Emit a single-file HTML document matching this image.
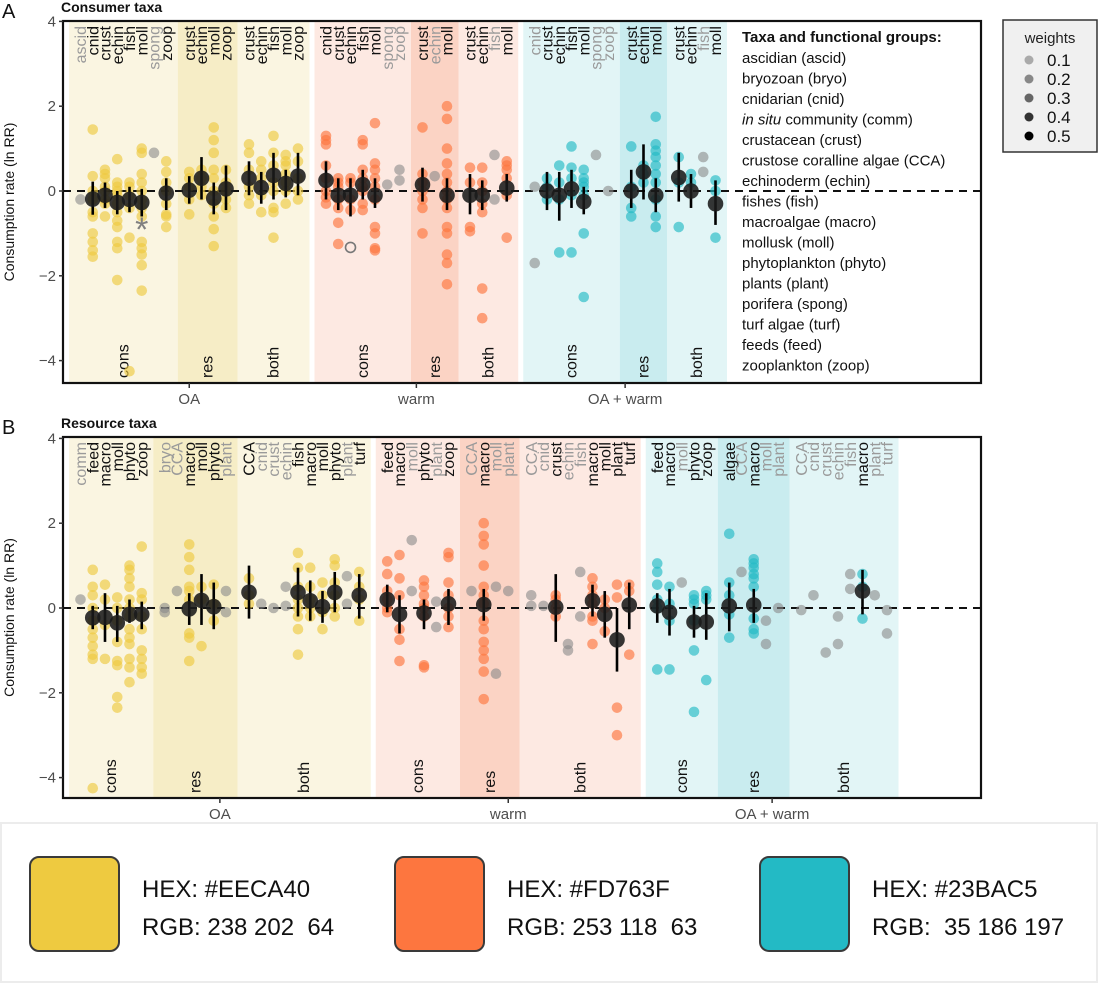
<!DOCTYPE html>
<html><head><meta charset="utf-8"><style>
body{margin:0;background:#fff;}
svg{display:block;font-family:"Liberation Sans",sans-serif;}
.pre{white-space:pre;}
</style></head><body>
<svg id="chart" width="1099" height="984" viewBox="0 0 1099 984" xmlns="http://www.w3.org/2000/svg">
<rect x="0" y="0" width="1099" height="984" fill="#fff"/>
<rect x="1" y="823" width="1096" height="159" fill="#fff" stroke="#ececec" stroke-width="2"/>
<g id="layer"></g>
<!-- colour key -->
<g font-family="'Liberation Sans',sans-serif" font-size="24" fill="#111">
<rect x="30" y="857" width="89" height="94" rx="9" fill="#EECA40" stroke="#3a3a3a" stroke-width="2"/>
<text x="142" y="897">HEX: #EECA40</text>
<text x="142" y="935" class="pre">RGB: 238 202  64</text>
<rect x="395" y="857" width="89" height="94" rx="9" fill="#FD763F" stroke="#3a3a3a" stroke-width="2"/>
<text x="507" y="897">HEX: #FD763F</text>
<text x="507" y="935" class="pre">RGB: 253 118  63</text>
<rect x="760" y="857" width="89" height="94" rx="9" fill="#23BAC5" stroke="#3a3a3a" stroke-width="2"/>
<text x="872" y="897">HEX: #23BAC5</text>
<text x="872" y="935" class="pre">RGB:  35 186 197</text>
</g>
<!-- weights legend -->
<g>
<rect x="1003" y="20" width="94" height="132" fill="#f0f0f0" stroke="#333" stroke-width="1.5"/>
<text x="1050" y="43" font-size="15" text-anchor="middle" fill="#222">weights</text>
<circle cx="1029" cy="60" r="4.5" fill="#aaa"/><text x="1047" y="66" font-size="17" fill="#111">0.1</text>
<circle cx="1029" cy="79" r="4.5" fill="#888"/><text x="1047" y="85" font-size="17" fill="#111">0.2</text>
<circle cx="1029" cy="98" r="4.5" fill="#666"/><text x="1047" y="104" font-size="17" fill="#111">0.3</text>
<circle cx="1029" cy="117" r="4.5" fill="#333"/><text x="1047" y="123" font-size="17" fill="#111">0.4</text>
<circle cx="1029" cy="136" r="4.5" fill="#000"/><text x="1047" y="142" font-size="17" fill="#111">0.5</text>
</g>
<!-- taxa legend -->
<g font-size="15" fill="#111">
<text x="742" y="42" font-weight="bold">Taxa and functional groups:</text>
<text x="742" y="63">ascidian (ascid)</text>
<text x="742" y="83.5">bryozoan (bryo)</text>
<text x="742" y="104">cnidarian (cnid)</text>
<text x="742" y="124.5"><tspan font-style="italic">in situ</tspan> community (comm)</text>
<text x="742" y="145">crustacean (crust)</text>
<text x="742" y="165.5">crustose coralline algae (CCA)</text>
<text x="742" y="186">echinoderm (echin)</text>
<text x="742" y="206.5">fishes (fish)</text>
<text x="742" y="227">macroalgae (macro)</text>
<text x="742" y="247.5">mollusk (moll)</text>
<text x="742" y="268">phytoplankton (phyto)</text>
<text x="742" y="288.5">plants (plant)</text>
<text x="742" y="309">porifera (spong)</text>
<text x="742" y="329.5">turf algae (turf)</text>
<text x="742" y="350">feeds (feed)</text>
<text x="742" y="370.5">zooplankton (zoop)</text>
</g>
</svg>
<script>
// ===== Panel A data (consumer taxa) =====
const bandTreatA = ["OA","OA","OA","warm","warm","warm","OA + warm","OA + warm","OA + warm"];
const bandTypeA = ["cons","res","both","cons","res","both","cons","res","both"];
const taxaA = [
 ["ascid","cnid","crust","echin","fish","moll","spong","zoop"],
 ["crust","echin","moll","zoop"],
 ["crust","echin","fish","moll","zoop"],
 ["cnid","crust","echin","fish","moll","spong","zoop"],
 ["crust","echin","moll"],
 ["crust","echin","fish","moll"],
 ["cnid","crust","echin","fish","moll","spong","zoop"],
 ["crust","echin","moll"],
 ["crust","echin","fish","moll"]];
const meanA = [null,-0.19,-0.1,-0.27,-0.2,-0.27,null,-0.05, 0.02,0.3,-0.17,0.05, 0.3,0.08,0.37,0.18,0.35,
 0.25,-0.1,-0.1,0.15,-0.1,null,null, 0.15,null,-0.1, -0.1,-0.1,null,0.07,
 null,0.0,-0.1,0.05,-0.25,null,null, 0.0,0.45,-0.1, 0.32,0.0,null,-0.3];
const hiA = [null,0.22,0.2,0.0,0.1,0.05,null,0.3, 0.35,0.8,0.2,0.6, 0.7,0.45,0.9,0.5,0.9,
 0.7,0.3,0.3,0.5,0.3,null,null, 0.55,null,0.3, 0.4,0.25,null,0.4,
 null,0.45,0.45,0.5,0.1,null,null, 0.5,1.1,0.3, 0.9,0.4,null,0.25];
const loA = [null,-0.56,-0.4,-0.55,-0.5,-0.6,null,-0.45, -0.3,-0.2,-0.55,-0.45, -0.1,-0.3,-0.2,-0.15,-0.1,
 -0.2,-0.45,-0.6,-0.2,-0.4,null,null, -0.25,null,-0.45, -0.55,-0.45,null,-0.25,
 null,-0.45,-0.7,-0.4,-0.55,null,null, -0.4,-0.2,-0.5, -0.25,-0.4,null,-0.8];
const ptsA = [
 [-0.2],[1.45,0.35,0,-0.2,-0.5,-0.6,-1.0,-1.2,-1.4,-1.55],[0.5,0.4,0.3,0.1,0,-0.2,-0.3,-0.6],
 [0.75,0.2,0.1,0,-0.1,-0.3,-0.5,-0.7,-0.85,-1.2,-1.35,-2.1],[0.2,0.1,-0.1,-0.4,-1.1,-4.25],
 [1.0,0.9,0.4,0.2,0,-0.2,-0.4,-0.6,-1.2,-1.35,-1.5,-1.75,-2.35],[0.9],[0.7,0.45,0.2,0,-0.3,-0.55,-0.6,-0.85],
 [0.45,0.3,0.1,-0.2,-0.55],[0.5,0.3,0.1,-0.1],[1.5,1.2,0.9,0.5,0.3,0,-0.3,-0.6,-0.9,-1.3],[0.5,0.2,0,-0.2,-0.4],
 [1.1,0.9,0.5,0.1,-0.1,-0.3],[0.7,0.5,0.3,-0.1,-0.5],[1.3,0.9,0.6,0.2,0,-0.4,-0.5,-1.1],[0.85,0.7,0.6,0.4,0.2,0,-0.3],[1.0,0.7,0.3,0,-0.2],
 [1.3,1.2,1.1,0.6,0.3,0,-0.15,-0.3],[0.3,0.2,0.1,-0.2,-0.4,-0.75,-1.25],[0.3,0.2,-0.2,-0.45],[1.2,1.1,0.5,0.3,0.1,0,-0.3,-0.45],
 [1.6,0.65,0.5,0.3,0.1,-0.2,-0.85,-1.0,-1.35,-1.4],[0.15],[0.5,0.25],
 [1.5,0.4,0.2,0,-0.2,-0.4,-1.0],[0.35],[2.0,1.7,1.0,0.65,0.4,0.2,0,-0.2,-0.4,-0.85,-1.0,-1.5,-1.7,-2.2],
 [0.55,0.2,-0.85,-0.95],[0.55,0.2,0,-0.3,-0.5,-2.3,-3.0],[0.85,-0.2],[0.7,0.6,0.5,0.3,-0.1,-1.1],
 [0.1,-1.7],[0.3,0.1,-0.2],[0.6,0.2,-0.2,-1.45],[1.05,0.55,0.3,-0.1,-1.45],[0.5,0.3,0.2,0.1,-0.1,-1.0,-2.5],[0.85],[0],
 [1.05,0.1,-0.4,-0.6],[0.6,0.4,0.2],[1.75,1.1,0.95,0.8,0.6,0.4,0.2,-0.2,-0.6,-0.85],
 [0.8,0.2,-0.85],[0.4,0.2],[0.8,0.45],[0.25,0.0,-1.1]];
const asteriskA = [{idx:5, v:-0.85}];
const openCircleA = [{idx:19, v:-1.33}];

// ===== Panel B data (resource taxa) =====
const bandTreatB = ["OA","OA","OA","warm","warm","warm","OA + warm","OA + warm","OA + warm"];
const bandTypeB = ["cons","res","both","cons","res","both","cons","res","both"];
const taxaB = [
 ["comm","feed","macro","moll","phyto","zoop"],
 ["bryo","CCA","macro","moll","phyto","plant"],
 ["CCA","cnid","crust","echin","fish","macro","moll","phyto","plant","turf"],
 ["feed","macro","moll","phyto","plant","zoop"],
 ["CCA","macro","moll","plant"],
 ["CCA","cnid","crust","echin","fish","macro","moll","plant","turf"],
 ["feed","macro","moll","phyto","zoop"],
 ["algae","CCA","macro","moll","plant"],
 ["CCA","cnid","crust","echin","fish","macro","plant","turf"]];
const meanB = [null,-0.23,-0.22,-0.35,-0.15,-0.15, null,null,-0.02,0.18,0.03,null,
 0.37,null,null,null,0.37,0.17,0.03,0.37,null,0.3,
 0.2,-0.15,null,-0.12,null,0.1, null,0.08,null,null,
 null,null,0.02,null,null,0.17,-0.15,-0.75,0.07,
 0.05,-0.1,null,-0.33,-0.33, 0.05,null,0.07,null,null,
 null,null,null,null,null,0.4,null,null];
const hiB = [null,0.05,0.35,0.05,0.2,0.15, null,null,0.35,0.8,0.6,null,
 1.0,null,null,null,0.95,0.65,0.4,0.85,null,0.8,
 0.55,0.3,null,0.2,null,0.45, null,0.45,null,null,
 null,null,0.8,null,null,0.55,0.4,0.0,0.6,
 0.35,0.45,null,0.05,0.35, 0.6,null,0.45,null,null,
 null,null,null,null,null,0.9,null,null];
const loB = [null,-0.5,-0.8,-0.8,-0.35,-0.5, null,null,-0.4,-0.4,-0.5,null,
 -0.25,null,null,null,-0.2,-0.3,-0.35,-0.1,null,-0.25,
 -0.1,-0.6,null,-0.5,null,-0.4, null,-0.3,null,null,
 null,null,-0.8,null,null,-0.2,-0.7,-1.5,-0.5,
 -0.35,-0.65,null,-0.7,-0.75, -0.55,null,-0.35,null,null,
 null,null,null,null,null,-0.15,null,null];
const ptsB = [
 [0.2],[0.9,0.5,0.3,0,-0.3,-0.5,-0.7,-0.9,-1.1,-1.2,-4.25],[0.55,0.2,-0.4,-1.2],[0.25,0,-0.3,-0.8,-1.25,-1.35,-2.1,-2.35],
 [1.0,0.9,0.7,0.5,0.2,0,-0.2,-0.5,-0.7,-0.85,-1.2,-1.4,-1.75],[1.45,0.35,0.2,-0.2,-0.5,-1.0,-1.2,-1.4,-1.55],
 [0,-0.1],[0.4],[1.5,1.2,0.9,0.5,0.4,0.2,-0.6,-0.7,-1.25],[0.5,0.2,-0.9],[0.55,0.1,-0.3],[0.4,-0.1],
 [0.7,0.3,0.1],[0.1],[0],[0.5,0.05],[1.3,0.95,0.5,0.2,0,-0.2,-0.5,-1.1],[0.95,0.5,0.2,0,-0.2],[0.6,0.3,-0.1,-0.5],
 [1.15,1.0,0.6,0.3,0,-0.2],[0.75,0.1],[0.85,0.5,0.2,-0.3],
 [1.1,0.8,0.4,0.2,0,-0.1],[1.25,0.7,0.3,-0.5,-0.75,-1.25],[1.6,0.4],[0.65,0.5,0.3,0.1,0,-0.2,-1.35,-1.4],[0.15,-0.45],
 [1.3,1.2,0.6,0.3,0,-0.2,-0.45],
 [0.4],[2.0,1.7,1.5,1.0,0.5,0.3,0.1,-0.3,-0.5,-0.8,-1.0,-1.2,-1.5,-2.15],[0.5,-1.55],[0.4],
 [0.3,0.05],[0.05],[0.3,0.2,0,-0.2],[-0.85,-1.0],[0.85,-0.2],[0.7,0.5,0.3,0.1,-0.2,-0.3,-0.85],[0.2,0,-0.55],
 [0.55,0.25,-2.35,-3.0],[0.55,0.4,-1.1],
 [1.05,0.85,0.55,0.2,0,-1.45],[0.5,0.1,-0.3,-1.45],[0.6],[0.3,0.2,0.1,-0.3,-1.0,-2.45],[0.4,0.3,0.2,-1.7],
 [1.75,0.6,0.3,-0.15,-0.7],[0.85],[1.15,1.05,0.95,0.8,0.7,0.5,-0.25,-0.5,-0.6],[-0.3,-0.85],[0.0],
 [-0.05],[0.3],[-1.05],[-0.2,-0.85],[0.8,0.45],[0.8,0.5,-0.25],[0.3],[-0.05,-0.6]];
const yTicks = [4,2,0,-2,-4];
const yTickLabels = ["4","2","0","\u22122","\u22124"];

// ===== rendering =====
const NS="http://www.w3.org/2000/svg";
const layer=document.getElementById('layer');
function mk(tag,attrs,parent,text){const e=document.createElementNS(NS,tag);for(const k in attrs)e.setAttribute(k,attrs[k]);if(text!==undefined)e.textContent=text;(parent||layer).appendChild(e);return e;}
const COL={"OA":"#EECA40","warm":"#FD763F","OA + warm":"#23BAC5"};
const BAND={"OA":["#faf5e1","#f6edc6"],"warm":["#fde9e2","#fbd3c4"],"OA + warm":["#e2f5f6","#c9ecef"]};
const STEP=12.25,PAD=11.5,GAP=5,X0=69,LEFT=63,RIGHT=981,UNIT=42.4;

function drawPanel(P){
  const g=mk('g',{});
  
  
  const y=v=>P.zero-v*UNIT;
  let cur=X0, prev=null; const bandInfo=[]; const tx=[]; const treatSpan={};
  P.taxa.forEach((list,b)=>{
    const tr=P.treat[b];
    if(prev!==null && prev!==tr) cur+=GAP;
    const w=(list.length-1)*STEP+2*PAD;
    bandInfo.push({x:cur,w:w,tr:tr,type:P.type[b]});
    if(!treatSpan[tr])treatSpan[tr]=[cur,cur+w];else treatSpan[tr][1]=cur+w;
    list.forEach((t,j)=>{tx.push({x:cur+PAD+j*STEP,name:t,tr:tr});});
    cur+=w; prev=tr;
  });
  bandInfo.forEach(b=>{
    const r=mk('rect',{x:b.x,y:P.top+1,width:b.w,height:P.bottom-P.top-2,fill:BAND[b.tr][b.type==='res'?1:0]},g);
    
    
    const t=mk('text',{x:b.x+b.w/2+5,y:P.bottom-5,'font-size':16,fill:'#111',transform:`rotate(-90 ${b.x+b.w/2+5} ${P.bottom-5})`},g,b.type);
    
    
  });
  const zl=mk('line',{x1:LEFT,x2:RIGHT,y1:y(0),y2:y(0),stroke:'#111','stroke-width':2,'stroke-dasharray':'8 6'},g);
  
  
  tx.forEach((t,i)=>{
    const m=P.mean[i]; const gray=(m===null);
    const lab=mk('text',{x:t.x+5.5,y:P.top+5,'font-size':16,'text-anchor':'end',fill:gray?'#9a9a9a':'#111',transform:`rotate(-90 ${t.x+5.5} ${P.top+5})`},g,t.name);
    
    
    P.pts[i].forEach(v=>{
      const c=mk('circle',{cx:t.x,cy:y(v),r:5.3,fill:gray?'#8a8a8a':COL[t.tr],'fill-opacity':gray?0.6:0.65},g);
      
      
    });
  });
  tx.forEach((t,i)=>{
    const m=P.mean[i]; if(m===null)return;
    const l=mk('line',{x1:t.x,x2:t.x,y1:y(P.hi[i]),y2:y(P.lo[i]),stroke:'#000','stroke-width':2.6},g);
    
    
    const c=mk('circle',{cx:t.x,cy:y(m),r:7.8,fill:'#1a1a1a','fill-opacity':0.88},g);
    
    
  });
  (P.ast||[]).forEach(a=>{
    const s=mk('text',{x:tx[a.idx].x,y:y(a.v)+14,'font-size':34,'text-anchor':'middle',fill:'#808080'},g,'*');
    
    
  });
  (P.open||[]).forEach(a=>{
    const s=mk('circle',{cx:tx[a.idx].x,cy:y(a.v),r:5,fill:'none',stroke:'#777','stroke-width':1.6},g);
    
    
  });
  const fr=mk('rect',{x:LEFT,y:P.top,width:RIGHT-LEFT,height:P.bottom-P.top,fill:'none',stroke:'#111','stroke-width':2.2},g);
  
  
  yTicks.forEach((v,k)=>{
    mk('line',{x1:LEFT-4,x2:LEFT,y1:y(v),y2:y(v),stroke:'#333','stroke-width':1.5},g);
    const t=mk('text',{x:LEFT-7,y:y(v)+5,'font-size':15,'text-anchor':'end',fill:'#4d4d4d'},g,yTickLabels[k]);
    
    
  });
  const yc=(P.top+P.bottom)/2;
  const yt=mk('text',{x:14,y:yc,'font-size':14,'text-anchor':'middle',fill:'#111',transform:`rotate(-90 14 ${yc})`},g,'Consumption rate (ln RR)');
  
  
  Object.keys(treatSpan).forEach(tr=>{
    const cx=(treatSpan[tr][0]+treatSpan[tr][1])/2;
    mk('line',{x1:cx,x2:cx,y1:P.bottom,y2:P.bottom+5,stroke:'#333','stroke-width':1.5},g);
    const t=mk('text',{x:cx,y:P.bottom+21,'font-size':15,'text-anchor':'middle',fill:'#4d4d4d'},g,tr);
    
    
  });
  const pl=mk('text',{x:2,y:P.top-3,'font-size':20,fill:'#111'},g,P.letter);
  
  
  const ti=mk('text',{x:61,y:P.top-9,'font-size':14,'font-weight':'bold',fill:'#111'},g,P.title);
  
  
}
drawPanel({name:'panel-a-consumer-taxa',letter:'A',title:'Consumer taxa',top:21,bottom:383,zero:191,
  taxa:taxaA,treat:bandTreatA,type:bandTypeA,mean:meanA,hi:hiA,lo:loA,pts:ptsA,ast:asteriskA,open:openCircleA});
drawPanel({name:'panel-b-resource-taxa',letter:'B',title:'Resource taxa',top:437,bottom:798,zero:608,
  taxa:taxaB,treat:bandTreatB,type:bandTypeB,mean:meanB,hi:hiB,lo:loB,pts:ptsB});
</script>
</body></html>
